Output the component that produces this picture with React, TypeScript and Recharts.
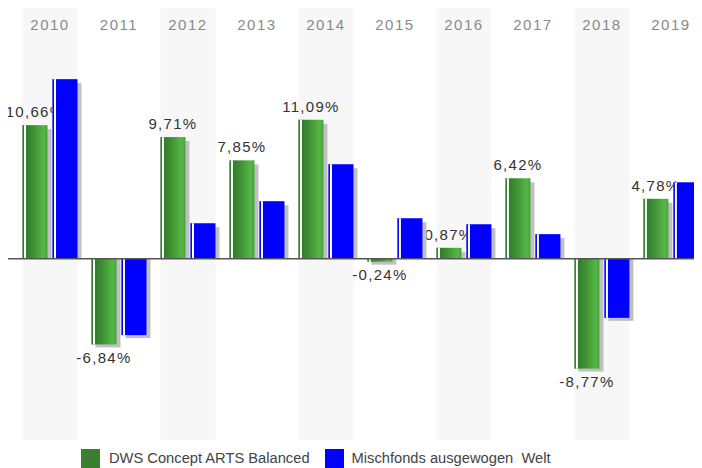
import React from "react";
import {
  BarChart,
  Bar,
  XAxis,
  YAxis,
  ReferenceArea,
  ReferenceLine,
  LabelList,
  Legend,
} from "recharts";

const years = ["2010", "2011", "2012", "2013", "2014", "2015", "2016", "2017", "2018", "2019"];
const fundValues = [10.66, -6.84, 9.71, 7.85, 11.09, -0.24, 0.87, 6.42, -8.77, 4.78];
const peerValues = [14.33, -6.1, 2.83, 4.59, 7.54, 3.23, 2.75, 1.96, -4.72, 6.1];
const shadedYears = ["2010", "2012", "2014", "2016", "2018"];
const seriesNames = ["DWS Concept ARTS Balanced", "Mischfonds ausgewogen  Welt"];

const data = years.map((y, i) => ({ year: y, fund: fundValues[i], peer: peerValues[i] }));

const FONT = "'Liberation Sans', Arial, Helvetica, sans-serif";
const GREEN = "#3a7f2e";
const BLUE = "#0000ff";

const makeBarShape = (kind: "green" | "blue") => (props: any) => {
  const { x, y, width, height, payload } = props;
  const top = Math.min(y, y + height);
  const h = Math.abs(height);
  const v = payload ? (kind === "green" ? payload.fund : payload.peer) : 0;
  const positive = v >= 0;
  const shadowY = positive ? top + 4 : top;
  const shadowH = positive ? Math.max(0, h - 4) : h + 3;
  const mainFill = kind === "green" ? "url(#greenGrad)" : BLUE;
  const stripe = kind === "green" ? "#2f7a2a" : BLUE;
  return (
    <g>
      <rect x={x + 4} y={shadowY} width={width} height={shadowH} fill="#c0c0c0" />
      <rect x={x} y={top} width={width} height={h} fill={mainFill} />
      <rect x={x} y={top} width={3.5} height={h} fill="#ffffff" />
      <rect x={x} y={top} width={1.5} height={h} fill={stripe} />
    </g>
  );
};

const ValueLabel = (props: any) => {
  const { x, y, width, height, value } = props;
  const top = Math.min(y, y + height);
  const bottom = Math.max(y, y + height);
  const cx = x + width / 2;
  const ty = value >= 0 ? top - 8 : bottom + 18.5;
  const txt = (value as number).toFixed(2).replace(".", ",") + "%";
  return (
    <text
      x={cx}
      y={ty}
      textAnchor="middle"
      fontFamily={FONT}
      fontSize={15}
      letterSpacing={1.3}
      fill="#333333"
    >
      {txt}
    </text>
  );
};

const YearTick = (props: any) => {
  const { x, y, payload } = props;
  return (
    <text
      x={x}
      y={y + 22.5}
      textAnchor="middle"
      fontFamily={FONT}
      fontSize={15}
      letterSpacing={1.5}
      fill="#8a8a8a"
    >
      {payload.value}
    </text>
  );
};

const BandShape = (props: any) => {
  const { x, y, width, height } = props;
  return <rect x={x + 7} y={y} width={Math.max(0, width - 14)} height={height} fill="#f7f7f7" />;
};

const ZeroLine = (props: any) => {
  const { x1, y1, x2, y2 } = props;
  return <line x1={x1 - 7.5} y1={y1} x2={x2} y2={y2} stroke="#555555" strokeWidth={1.6} />;
};

const LegendContent = () => (
  <div
    style={{
      display: "flex",
      alignItems: "center",
      height: 28,
      paddingTop: 8,
      boxSizing: "border-box",
      paddingLeft: 81,
      fontFamily: FONT,
      fontSize: 14.7,
      color: "#444444",
      whiteSpace: "pre",
    }}
  >
    <span style={{ display: "inline-block", width: 19, height: 19, background: GREEN }} />
    <span style={{ marginLeft: 9 }}>{seriesNames[0]}</span>
    <span style={{ display: "inline-block", width: 19, height: 19, background: BLUE, marginLeft: 15 }} />
    <span style={{ marginLeft: 8 }}>{seriesNames[1]}</span>
  </div>
);

export default function App() {
  return (
    <div style={{ marginLeft: -8, marginTop: -8, width: 702, height: 468, overflow: "hidden", position: "relative" }}>
      <BarChart
        width={706}
        height={468}
        data={data}
        margin={{ top: 6, right: 0.6, bottom: 0, left: 15.5 }}
        barCategoryGap={7}
        barGap={5}
      >
        <defs>
          <linearGradient id="greenGrad" x1="0" y1="0" x2="1" y2="0">
            <stop offset="0%" stopColor="#2c7328" />
            <stop offset="45%" stopColor="#3f9234" />
            <stop offset="85%" stopColor="#55b846" />
            <stop offset="100%" stopColor="#47a13c" />
          </linearGradient>
        </defs>
        <XAxis
          dataKey="year"
          orientation="top"
          height={1}
          tickSize={0}
          tickMargin={0}
          axisLine={false}
          tickLine={false}
          tick={<YearTick />}
          interval={0}
        />
        <YAxis hide domain={[-14.47, 20.09]} />
        {shadedYears.map((y) => (
          <ReferenceArea key={y} x1={y} x2={y} shape={<BandShape />} ifOverflow="visible" />
        ))}
        <Bar dataKey="fund" name={seriesNames[0]} fill={GREEN} shape={makeBarShape("green")} isAnimationActive={false}>
          <LabelList dataKey="fund" content={<ValueLabel />} zIndex={250} />
        </Bar>
        <Bar dataKey="peer" name={seriesNames[1]} fill={BLUE} shape={makeBarShape("blue")} isAnimationActive={false} />
        <ReferenceLine y={0} shape={<ZeroLine />} ifOverflow="visible" />
        <Legend
          verticalAlign="bottom"
          align="left"
          height={28}
          wrapperStyle={{ left: 0, width: 702 }}
          content={<LegendContent />}
        />
      </BarChart>
    </div>
  );
}
